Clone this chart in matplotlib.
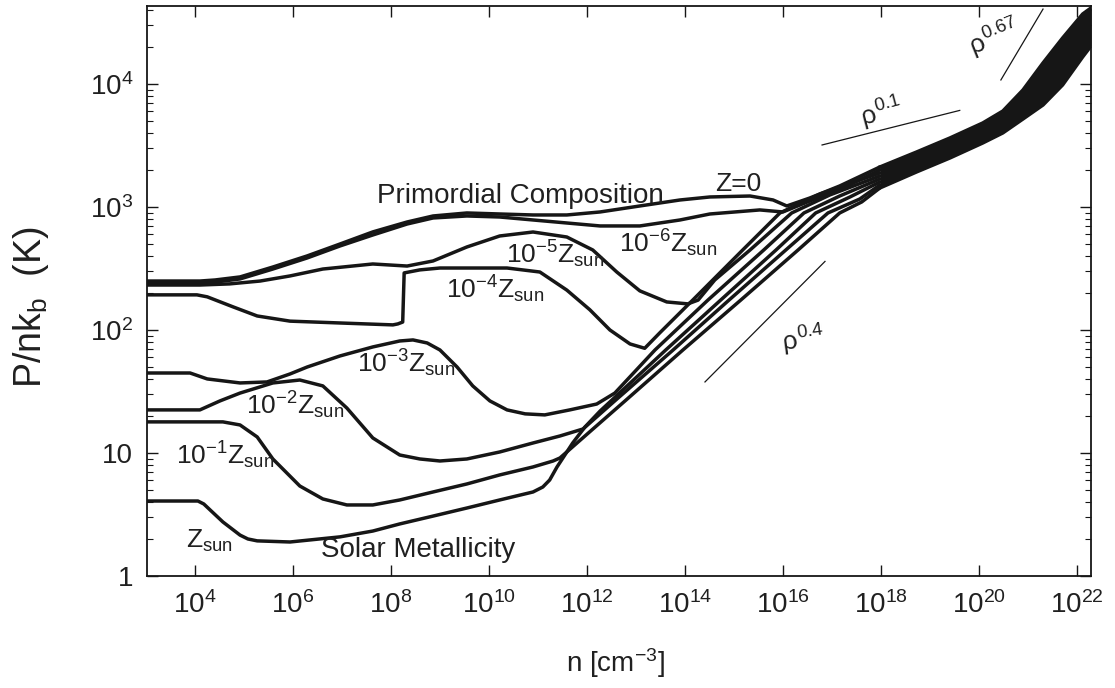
import numpy as np
import matplotlib
matplotlib.use("Agg")
import matplotlib.pyplot as plt
from matplotlib.ticker import FixedLocator, FixedFormatter, NullLocator, NullFormatter

plt.rcParams["font.family"] = ["Liberation Sans", "DejaVu Sans"]
plt.rcParams["mathtext.fontset"] = "custom"
plt.rcParams["mathtext.rm"] = "Liberation Sans"
plt.rcParams["mathtext.it"] = "Liberation Sans"
plt.rcParams["mathtext.bf"] = "Liberation Sans:bold"
plt.rcParams["mathtext.sf"] = "Liberation Sans"

# ---------------- data: log10(n / cm^-3) and P/nk_b [K] ----------------
LOGN_Z0 = [3.02, 4.10, 4.41, 4.92, 5.59, 6.29, 6.96, 7.63, 8.33, 8.86, 9.55, 10.22, 10.90,
           11.59, 12.27, 13.08, 13.90, 14.51, 15.33, 15.80, 16.08, 16.55, 17.16, 17.98]
P_Z0 = [250, 250, 255, 270, 325, 400, 500, 627, 755, 845, 894, 877, 861,
        861, 911, 1019, 1140, 1206, 1228, 1140, 1019, 1183, 1482, 2114]

LOGN_ZM6 = [3.02, 4.10, 4.41, 4.92, 5.59, 6.29, 6.96, 7.63, 8.33, 8.86, 9.55, 10.22, 10.90,
            11.59, 12.27, 13.08, 13.90, 14.51, 15.53, 16.00, 16.55, 17.27, 17.98]
P_ZM6 = [241, 241, 245, 260, 313, 385, 482, 592, 727, 814, 845, 829, 784,
         741, 701, 701, 784, 877, 946, 911, 1119, 1454, 2000]

LOGN_ZM5 = [3.02, 4.10, 4.71, 5.33, 5.94, 6.61, 7.63, 8.33, 8.86, 9.55, 10.22, 10.90, 11.59,
            12.12, 12.61, 13.08, 13.63, 14.06, 14.27, 14.61, 15.33, 16.18, 16.96, 17.98]
P_ZM5 = [232, 232, 237, 250, 275, 313, 344, 331, 364, 473, 581, 626, 570,
         447, 296, 208, 169, 163, 175, 255, 447, 894, 1253, 1787]

LOGN_ZM4 = [3.02, 4.04, 4.25, 4.78, 5.27, 5.94, 6.96, 8.04, 8.14, 8.24, 8.27, 8.59, 9.00, 9.67,
            10.37, 11.04, 11.59, 12.06, 12.47, 12.88, 13.18, 13.49, 14.16, 15.18, 15.94, 16.76, 17.98]
P_ZM4 = [193, 193, 186, 154, 130, 118, 114, 110, 112, 116, 291, 308, 319, 319,
         319, 296, 211, 146, 100, 77, 71, 95, 175, 447, 894, 1276, 1890]

LOGN_ZM3 = [3.02, 3.90, 4.25, 4.92, 5.47, 5.94, 6.29, 6.96, 7.63, 8.18, 8.45, 8.74, 9.00, 9.35,
            9.67, 10.02, 10.37, 10.74, 11.14, 11.65, 12.20, 12.57, 13.39, 14.47, 15.61, 16.43, 17.16, 17.98]
P_ZM3 = [44.7, 44.7, 40.0, 37.1, 37.8, 43.9, 50.0, 61.5, 72.8, 81.4, 83.0, 78.4, 68.8, 50.0,
         35.1, 26.5, 22.4, 20.8, 20.4, 22.4, 25.0, 30.7, 68.8, 175, 447, 894, 1228, 1690]

LOGN_ZM2 = [3.02, 4.10, 4.51, 4.92, 5.59, 6.14, 6.61, 7.10, 7.63, 8.18, 8.59, 9.00, 9.55, 10.22,
            10.90, 11.45, 11.92, 12.59, 13.76, 14.90, 16.06, 16.92, 17.57, 17.98]
P_ZM2 = [22.4, 22.4, 26.5, 30.7, 37.1, 39.2, 35.1, 23.2, 13.25, 9.63, 8.94, 8.61, 8.94, 10.19,
         12.06, 13.75, 15.67, 26.97, 68.8, 175, 447, 894, 1161, 1510]

LOGN_ZM1 = [3.02, 4.57, 4.92, 5.27, 5.59, 6.14, 6.61, 7.10, 7.63, 8.18, 8.86, 9.55, 10.22, 10.90,
            11.31, 11.45, 12.10, 12.80, 13.96, 15.14, 16.31, 17.16, 17.61, 17.98]
P_ZM1 = [17.9, 17.9, 16.9, 13.5, 8.94, 5.39, 4.23, 3.78, 3.78, 4.15, 4.82, 5.60, 6.63, 7.70,
         8.61, 9.11, 15.38, 26.97, 68.8, 175, 447, 894, 1099, 1427]

LOGN_ZSUN = [3.02, 4.06, 4.18, 4.31, 4.57, 4.92, 5.08, 5.27, 5.94, 6.96, 7.63, 8.18, 8.86, 9.55,
             10.22, 10.90, 11.10, 11.24, 11.39, 11.55, 11.71, 11.96, 12.27, 13.61, 14.73, 15.86,
             16.67, 17.37, 17.98]
P_ZSUN = [4.07, 4.07, 3.85, 3.44, 2.75, 2.15, 2.00, 1.93, 1.89, 2.08, 2.32, 2.65, 3.07, 3.57,
          4.15, 4.82, 5.29, 6.03, 7.70, 9.63, 12.06, 16.27, 21.94, 68.8, 175, 447,
          894, 1206, 1597]

# merged high-density band (upper and lower envelope of all curves)
BAND_LOGN = [17.98, 18.73, 19.41, 20.08, 20.49, 20.90, 21.31, 21.71, 22.12, 22.29]
BAND_UPPER_P = [2114, 2800, 3640, 4819, 6026, 8933, 14830, 23660, 37070, 41500]
BAND_LOWER_P = [1427, 1927, 2502, 3313, 3999, 5188, 6745, 9817, 16600, 20370]

# reference power laws  P/nk ~ rho^k
GUIDE_EXPONENT = [0.4, 0.1, 0.67]
GUIDE_LOGN_START = [14.41, 16.80, 20.45]
GUIDE_LOGN_END = [16.86, 19.61, 21.31]
GUIDE_P_START = [37.8, 3192, 10780]

XTICK_EXP = [4, 6, 8, 10, 12, 14, 16, 18, 20, 22]
YTICK_VALUES = [1, 10, 100, 1000, 10000]
YTICK_LABELS = ["1", "10", r"$10^{2}$", r"$10^{3}$", r"$10^{4}$"]

CURVES = [(LOGN_Z0, P_Z0), (LOGN_ZM6, P_ZM6), (LOGN_ZM5, P_ZM5), (LOGN_ZM4, P_ZM4),
          (LOGN_ZM3, P_ZM3), (LOGN_ZM2, P_ZM2), (LOGN_ZM1, P_ZM1), (LOGN_ZSUN, P_ZSUN)]

# ---------------- drawing ----------------
ink = "#161616"
txt = "#202020"
fig = plt.figure(figsize=(11.15, 6.88), dpi=100)
ax = fig.add_axes([0.1318, 0.1628, 0.8467, 0.8285])
ax.set_xscale("log")
ax.set_yscale("log")

for logn, p in CURVES:
    ax.plot(10 ** np.array(logn), p, color=ink, lw=2.5,
            solid_joinstyle="round", solid_capstyle="round", zorder=3)

bx = 10 ** np.array(BAND_LOGN)
ax.fill_between(bx, BAND_LOWER_P, BAND_UPPER_P, color=ink, lw=0, zorder=3)
ax.plot(bx, BAND_UPPER_P, color=ink, lw=2.5, solid_joinstyle="round", zorder=3)
ax.plot(bx, BAND_LOWER_P, color=ink, lw=2.5, solid_joinstyle="round", zorder=3)

for k, l0, l1, p0 in zip(GUIDE_EXPONENT, GUIDE_LOGN_START, GUIDE_LOGN_END, GUIDE_P_START):
    ln = np.array([l0, l1])
    ax.plot(10 ** ln, p0 * 10 ** (k * (ln - l0)), color=ink, lw=0.9, zorder=2)

ax.set_xlim(10 ** 3.02, 10 ** 22.29)
ax.set_ylim(1, 10 ** 4.634)

# ticks
ax.xaxis.set_major_locator(FixedLocator([10.0 ** e for e in XTICK_EXP]))
ax.xaxis.set_major_formatter(FixedFormatter([r"$10^{%d}$" % e for e in XTICK_EXP]))
ax.xaxis.set_minor_locator(NullLocator())
ax.yaxis.set_major_locator(FixedLocator(YTICK_VALUES))
ax.yaxis.set_major_formatter(FixedFormatter(YTICK_LABELS))
ax.yaxis.set_minor_locator(FixedLocator([m * 10.0 ** d for d in range(0, 5) for m in range(2, 10)]))
ax.yaxis.set_minor_formatter(NullFormatter())
ax.tick_params(which="major", direction="in", length=8, width=1.0, top=True, right=True,
               labelsize=20, colors=ink, labelcolor=txt)
ax.tick_params(axis="x", which="major", pad=11)
ax.tick_params(axis="y", which="major", pad=10)
ax.tick_params(which="minor", direction="in", length=4.5, width=0.8, top=True, right=True, colors=ink)
for s in ax.spines.values():
    s.set_linewidth(1.3)
    s.set_color(ink)

# axis labels
fig.text(615 / 1115, 1 - 663 / 688, r"n [cm$^{-3}$]", fontsize=20, color=txt, ha="center", va="center")
fig.text(31 / 1115, 1 - 307 / 688, r"P/nk$_{\mathrm{b}}$  (K)", fontsize=27, color=txt,
         ha="center", va="center", rotation=90)

# in-plot annotations: (text, log10 n, P, rotation, size)
ANNOTATIONS = [
    ("Primordial Composition", 10.633, 1228, 0, 20),
    ("Z=0", 15.082, 1538, 0, 19),
    (r"$10^{-6}\mathrm{Z}_{\mathrm{sun}}$", 13.653, 510, 0, 19),
    (r"$10^{-5}\mathrm{Z}_{\mathrm{sun}}$", 11.347, 415, 0, 19),
    (r"$10^{-4}\mathrm{Z}_{\mathrm{sun}}$", 10.122, 215, 0, 19),
    (r"$10^{-3}\mathrm{Z}_{\mathrm{sun}}$", 8.306, 54, 0, 19),
    (r"$10^{-2}\mathrm{Z}_{\mathrm{sun}}$", 6.041, 24.6, 0, 19),
    (r"$10^{-1}\mathrm{Z}_{\mathrm{sun}}$", 4.612, 9.63, 0, 19),
    (r"$\mathrm{Z}_{\mathrm{sun}}$", 4.306, 1.93, 0, 19),
    ("Solar Metallicity", 8.551, 1.63, 0, 20),
    (r"$\rho^{0.4}$", 16.408, 83, 8, 19),
    (r"$\rho^{0.1}$", 18.02, 5808, 15, 19),
    (r"$\rho^{0.67}$", 20.327, 23660, 22, 19),
]
for s, ln, p, rot, fs in ANNOTATIONS:
    ax.text(10 ** ln, p, s, fontsize=fs, color=txt, ha="center", va="center",
            rotation=rot, rotation_mode="anchor", zorder=4)

fig.savefig("out.png", dpi=100)
